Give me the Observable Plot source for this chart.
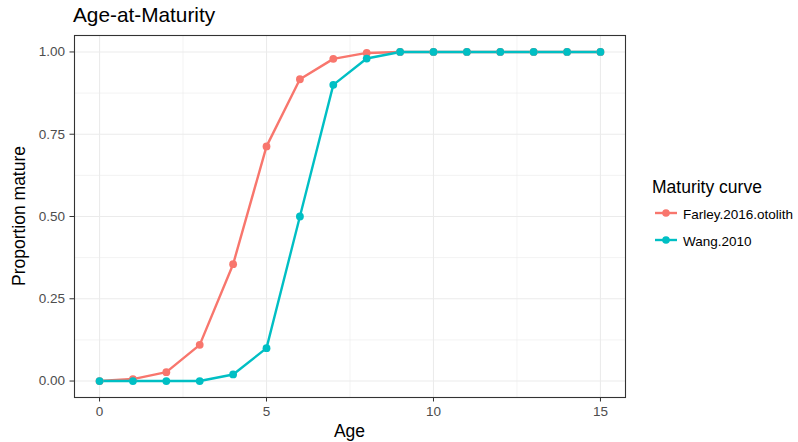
<!DOCTYPE html>
<html><head><meta charset="utf-8">
<script src="https://cdn.jsdelivr.net/npm/d3@7"></script>
<script src="https://cdn.jsdelivr.net/npm/@observablehq/plot@0.6"></script>
<style>
body{margin:0;background:#fff;font-family:"Liberation Sans",Arial,sans-serif;}
#wrap{position:relative;width:798px;height:442px;}
.abs{position:absolute;white-space:nowrap;line-height:normal;}
</style></head>
<body><div id="wrap"></div>
<script>
const ages = [0,1,2,3,4,5,6,7,8,9,10,11,12,13,14,15];
const farley = [0,0.006,0.027,0.11,0.355,0.713,0.917,0.979,0.997,1,1,1,1,1,1,1];
const wang = [0,0,0,0,0.02,0.1,0.5,0.9,0.98,1,1,1,1,1,1,1];
const seriesNames = ["Farley.2016.otolith","Wang.2010"];
const seriesColors = ["#F8766D","#00BFC4"];
const xTicks = [0,5,10,15];
const xMinor = [2.5,7.5,12.5];
const yTicks = [0,0.25,0.5,0.75,1];
const yMinor = [0.125,0.375,0.625,0.875];

const data = [];
ages.forEach((a,i)=>{data.push({age:a,p:farley[i],s:seriesNames[0]});});
ages.forEach((a,i)=>{data.push({age:a,p:wang[i],s:seriesNames[1]});});

const plot = Plot.plot({
  width:798, height:442,
  marginLeft:74, marginRight:173, marginTop:35, marginBottom:45,
  style:{fontFamily:"Liberation Sans, Arial, sans-serif", background:"transparent"},
  x:{domain:[-0.75,15.75]},
  y:{domain:[-0.05,1.05]},
  color:{domain:seriesNames, range:seriesColors},
  marks:[
    Plot.ruleX(xMinor,{stroke:"#EBEBEB",strokeWidth:0.6}),
    Plot.ruleY(yMinor,{stroke:"#EBEBEB",strokeWidth:0.6}),
    Plot.ruleX(xTicks,{stroke:"#EBEBEB",strokeWidth:1.1}),
    Plot.ruleY(yTicks,{stroke:"#EBEBEB",strokeWidth:1.1}),
    Plot.line(data,{x:"age",y:"p",z:"s",stroke:"s",strokeWidth:2.4}),
    Plot.dot(data,{x:"age",y:"p",fill:"s",r:3.9}),
    Plot.frame({stroke:"#333333",strokeWidth:1.1}),
    Plot.axisX({ticks:xTicks,tickSize:4.5,tickPadding:4,fontSize:13.5,color:"#4D4D4D",stroke:"#333333",label:null,tickFormat:d=>String(d)}),
    Plot.axisY({ticks:yTicks,tickSize:4.5,tickPadding:5,fontSize:13.5,color:"#4D4D4D",stroke:"#333333",label:null,tickFormat:d3.format(".2f")})
  ]
});
plot.style.position="absolute"; plot.style.left="0"; plot.style.top="0";
const wrap = document.getElementById("wrap");
wrap.appendChild(plot);

function addText(txt, css){const d=document.createElement("div");d.className="abs";d.textContent=txt;Object.assign(d.style,css);wrap.appendChild(d);return d;}
addText("Age-at-Maturity",{left:"73px",top:"3px",fontSize:"20.8px",color:"#000"});
addText("Age",{left:"349.5px",top:"421px",fontSize:"17.5px",color:"#000",transform:"translateX(-50%)"});
addText("Proportion mature",{left:"19px",top:"216px",fontSize:"17.5px",color:"#000",transform:"translate(-50%,-50%) rotate(-90deg)"});

// legend
addText("Maturity curve",{left:"652px",top:"177px",fontSize:"17.5px",color:"#000"});
seriesNames.forEach((n,i)=>{
  const y = 213 + i*26.5;
  const ns="http://www.w3.org/2000/svg";
  const sv=document.createElementNS(ns,"svg");
  sv.setAttribute("width","28");sv.setAttribute("height","14");
  sv.style.position="absolute";sv.style.left="653px";sv.style.top=(y-7)+"px";
  const ln=document.createElementNS(ns,"line");
  ln.setAttribute("x1","2");ln.setAttribute("x2","24");ln.setAttribute("y1","7");ln.setAttribute("y2","7");
  ln.setAttribute("stroke",seriesColors[i]);ln.setAttribute("stroke-width","2.4");
  const c=document.createElementNS(ns,"circle");
  c.setAttribute("cx","13");c.setAttribute("cy","7");c.setAttribute("r","3.8");c.setAttribute("fill",seriesColors[i]);
  sv.appendChild(ln);sv.appendChild(c);wrap.appendChild(sv);
  addText(n,{left:"683px",top:(y-6)+"px",fontSize:"13.5px",color:"#000"});
});
</script></body></html>
